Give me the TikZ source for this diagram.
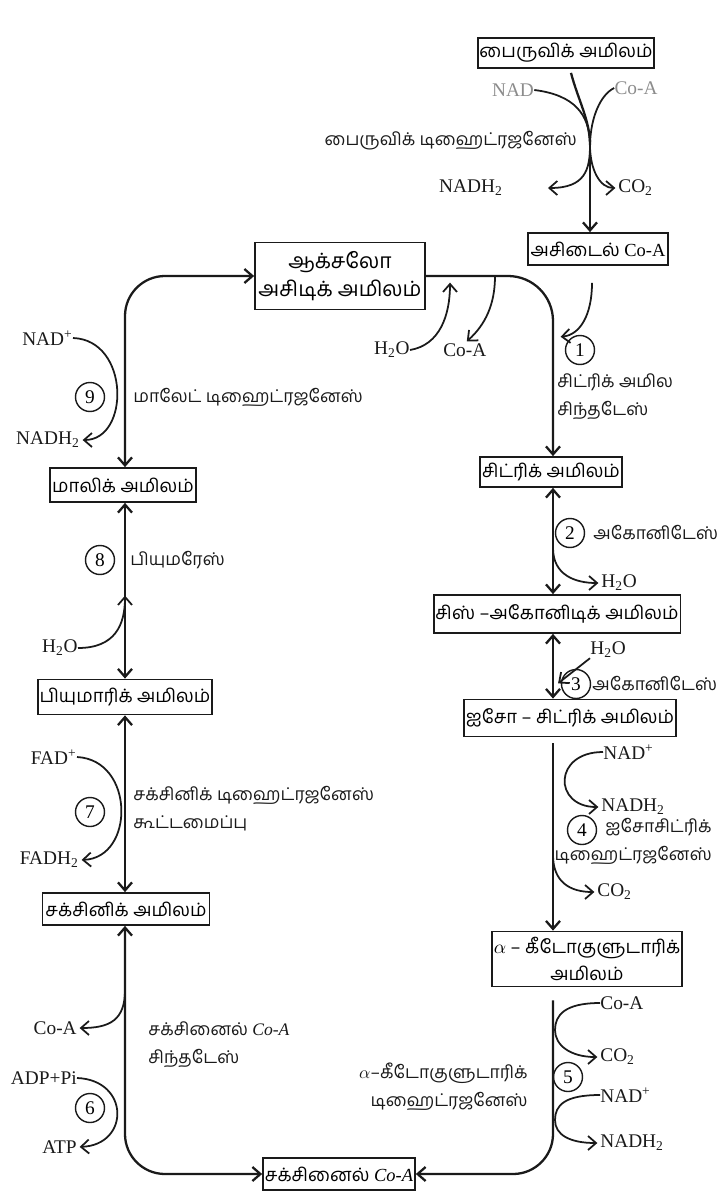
\documentclass[tikz,border=0pt]{standalone}
\usepackage{fontspec}
\setmainfont{Liberation Serif}
\newfontfamily\tamilfont[Script=Tamil]{Hind Madurai}
\usetikzlibrary{arrows.meta}
\definecolor{inkmain}{HTML}{1A1A1A}
\definecolor{inkfaint}{HTML}{8C8C8C}
\tikzset{
  acid/.style={draw=inkmain,line width=1pt,inner sep=1pt,align=center,
    font=\tamilfont\fontsize{10.5}{15}\selectfont},
  enzyme/.style={inkmain,inner sep=0pt,anchor=west,align=left,
    font=\tamilfont\fontsize{10}{16}\selectfont},
  chem/.style={inkmain,inner sep=0pt,font=\fontsize{11}{13}\selectfont},
  stepno/.style={draw=inkmain,circle,line width=0.8pt,inner sep=0pt,
    minimum size=0.58cm,font=\fontsize{11}{13}\selectfont},
  flow/.style={draw=inkmain,line width=1.3pt},
  side/.style={draw=inkmain,line width=1pt,shorten >=1.5pt},
}

\begin{document}
\begin{tikzpicture}[x=0.02cm,y=-0.02cm,>={Straight Barb[length=1.6mm,width=2.8mm]}]
  \useasboundingbox (0,0) rectangle (721,1200);
  \coordinate (L) at (125,0);
  \coordinate (R) at (553,0);

  % acids
  \node[acid,minimum width=2.76cm,minimum height=0.6cm] (pyr) at (566,53) {பைருவிக் அமிலம்};
  \node[acid,minimum width=2.8cm,minimum height=0.64cm] (acet) at (598,249) {அசிடைல் {\rmfamily Co-A}};
  \node[acid,minimum width=3.4cm,minimum height=1.34cm,font=\tamilfont\fontsize{12}{16}\selectfont] (oxa) at (340,276) {ஆக்சலோ\\அசிடிக் அமிலம்};
  \node[acid,minimum width=2.66cm,minimum height=0.6cm] (cit) at (551,472) {சிட்ரிக் அமிலம்};
  \node[acid,minimum width=4.5cm,minimum height=0.76cm] (cis) at (557,614) {சிஸ் –அகோனிடிக் அமிலம்};
  \node[acid,minimum width=4.12cm,minimum height=0.74cm] (iso) at (570,718) {ஐசோ – சிட்ரிக் அமிலம்};
  \node[acid,minimum width=3.1cm,minimum height=1.1cm] (akg) at (587,959) {$\alpha$ – கீடோகுளுடாரிக்\\அமிலம்};
  \node[acid,minimum width=3.04cm,minimum height=0.64cm] (scoa) at (339,1174) {சக்சினைல் {\rmfamily\itshape Co-A}};
  \node[acid,minimum width=3.34cm,minimum height=0.64cm] (suc) at (126,909) {சக்சினிக் அமிலம்};
  \node[acid,minimum width=2.88cm,minimum height=0.7cm] (fum) at (125,697) {பியுமாரிக் அமிலம்};
  \node[acid,minimum width=2.74cm,minimum height=0.68cm] (mal) at (123,485) {மாலிக் அமிலம்};

  % step numbers
  \node[stepno] (n1) at (580,350) {1};
  \node[stepno] (n2) at (570,533) {2};
  \node[stepno] (n3) at (576,684) {3};
  \node[stepno] (n4) at (582,830) {4};
  \node[stepno] (n5) at (568,1077) {5};
  \node[stepno] (n6) at (90,1108) {6};
  \node[stepno] (n7) at (90,812) {7};
  \node[stepno] (n8) at (100,560) {8};
  \node[stepno] (n9) at (90,397) {9};

  % enzymes
  \node[enzyme,anchor=east] (e0) at (577,141) {பைருவிக் டிஹைட்ரஜனேஸ்};
  \node[enzyme] (e1) at (557,397) {சிட்ரிக் அமில\\சிந்தடேஸ்};
  \node[enzyme] (e2) at (593,533) {அகோனிடேஸ்};
  \node[enzyme] (e3) at (592,684) {அகோனிடேஸ்};
  \node[enzyme,anchor=east,align=right] (e4) at (712,841) {ஐசோசிட்ரிக்\\டிஹைட்ரஜனேஸ்};
  \node[enzyme,anchor=east,align=right] (e5) at (528,1087) {$\alpha$–கீடோகுளுடாரிக்\\டிஹைட்ரஜனேஸ்};
  \node[enzyme] (e6) at (148,1045) {சக்சினைல் {\rmfamily\itshape Co-A}\\சிந்தடேஸ்};
  \node[enzyme] (e7) at (133,809) {சக்சினிக் டிஹைட்ரஜனேஸ்\\கூட்டமைப்பு};
  \node[enzyme] (e8) at (130,560) {பியுமரேஸ்};
  \node[enzyme] (e9) at (133,397) {மாலேட் டிஹைட்ரஜனேஸ்};

  % co-factors
  \node[chem,inkfaint] (nad0) at (513,90) {NAD};
  \node[chem,inkfaint] (coa0) at (636,88) {Co-A};
  \node[chem,anchor=east] (nadh0) at (503,188) {NADH\textsubscript{2}};
  \node[chem,anchor=west] (co20) at (618,188) {CO\textsubscript{2}};
  \node[chem,anchor=east] (h2o1) at (410,350) {H\textsubscript{2}O};
  \node[chem,anchor=west] (coa1) at (443,350) {Co-A};
  \node[chem,anchor=west] (h2o2) at (601,583) {H\textsubscript{2}O};
  \node[chem,anchor=west] (h2o3) at (590,650) {H\textsubscript{2}O};
  \node[chem,anchor=west] (nad4) at (603,752) {NAD\textsuperscript{+}};
  \node[chem,anchor=west] (nadh4) at (601,807) {NADH\textsubscript{2}};
  \node[chem,anchor=west] (co24) at (597,892) {CO\textsubscript{2}};
  \node[chem,anchor=west] (coa5) at (600,1003) {Co-A};
  \node[chem,anchor=west] (co25) at (600,1057) {CO\textsubscript{2}};
  \node[chem,anchor=west] (nad5) at (600,1095) {NAD\textsuperscript{+}};
  \node[chem,anchor=west] (nadh5) at (600,1143) {NADH\textsubscript{2}};
  \node[chem,anchor=east] (coa6) at (77,1028) {Co-A};
  \node[chem,anchor=east] (adp6) at (77,1078) {ADP+Pi};
  \node[chem,anchor=east] (atp6) at (77,1147) {ATP};
  \node[chem,anchor=east] (fad7) at (77,757) {FAD\textsuperscript{+}};
  \node[chem,anchor=east] (fadh7) at (79,860) {FADH\textsubscript{2}};
  \node[chem,anchor=east] (h2o8) at (78,648) {H\textsubscript{2}O};
  \node[chem,anchor=east] (nad9) at (73,338) {NAD\textsuperscript{+}};
  \node[chem,anchor=east] (nadh9) at (80,440) {NADH\textsubscript{2}};

  % main cycle
  \draw[flow,->,rounded corners=0.9cm] (oxa.east) -| (cit.north -| R);
  \draw[flow,<->] (cit.south -| R) -- (cis.north -| R);
  \draw[flow,<->] (cis.south -| R) -- (iso.north -| R);
  \draw[flow,->,shorten <=0.12cm] (iso.south -| R) -- (akg.north -| R);
  \draw[flow,->,rounded corners=0.8cm,shorten <=0.26cm] (akg.south -| R) |- (scoa.east);
  \draw[flow,<->,rounded corners=0.8cm] (suc.south -| L) |- (scoa.west);
  \draw[flow,<->] (suc.north -| L) -- (fum.south -| L);
  \draw[flow,<->] (fum.north -| L) -- (mal.south -| L);
  \draw[flow,<->,rounded corners=0.8cm] (mal.north -| L) |- (oxa.west);

  % pyruvate entry
  \coordinate (C) at (590,145);
  \draw[flow] ([xshift=0.1cm,yshift=-0.08cm]pyr.south) .. controls (578,100) and (590,120) .. (C);
  \draw[side] (nad0.east) .. controls (575,95) and (589,115) .. (C);
  \draw[side] (coa0.west) .. controls (600,95) and (591,118) .. (C);
  \draw[side,->,shorten >=0.9cm] (C) .. controls (590,170) and (585,188) .. (nadh0.east);
  \draw[side,->] (C) .. controls (590,170) and (600,188) .. (co20.west);
  \draw[flow,->] (C) -- (acet.north -| C);

  % side reactions
  \coordinate (oxh) at (450,280);
  \coordinate (oxc) at (495,276);
  \draw[side,->] (h2o1.east) .. controls (440,345) and (450,315) .. (oxh);
  \draw[side,->] (oxc) .. controls (495,305) and (485,325) .. (coa1.north);
  \coordinate (a1) at (558,337);
  \draw[side,->] ([xshift=-0.12cm,yshift=-0.34cm]acet.south) .. controls (592,315) and (580,335) .. (a1);
  \coordinate (b2) at (553,548);
  \draw[side,->] (b2) .. controls (553,575) and (575,583) .. (h2o2.west);
  \coordinate (b3) at (556,685);
  \draw[side,->] (h2o3.south west) -- (b3);
  \draw[side,->] (nad4.west) .. controls (553,752) and (553,807) .. (nadh4.west);
  \coordinate (b4) at (553,855);
  \draw[side,->] (b4) .. controls (553,882) and (570,892) .. (co24.west);
  \coordinate (b5a) at (555,1030);
  \draw[side,->] (coa5.west) .. controls (565,1003) and (555,1015) .. (b5a) .. controls (555,1045) and (570,1057) .. (co25.west);
  \coordinate (b5b) at (555,1120);
  \draw[side,->] (nad5.west) .. controls (565,1095) and (555,1105) .. (b5b) .. controls (555,1135) and (570,1143) .. (nadh5.west);
  \coordinate (b6) at (125,990);
  \draw[side,->] (b6) .. controls (125,1020) and (110,1028) .. (coa6.east);
  \draw[side,->] (adp6.east) .. controls (130,1080) and (130,1145) .. (atp6.east);
  \draw[side,->] (fad7.east) .. controls (135,760) and (135,858) .. (fadh7.east);
  \coordinate (b8) at (125,593);
  \draw[side,->] (h2o8.east) .. controls (115,648) and (125,625) .. (b8);
  \draw[side,->] (nad9.east) .. controls (130,340) and (130,440) .. (nadh9.east);
\end{tikzpicture}
\end{document}
